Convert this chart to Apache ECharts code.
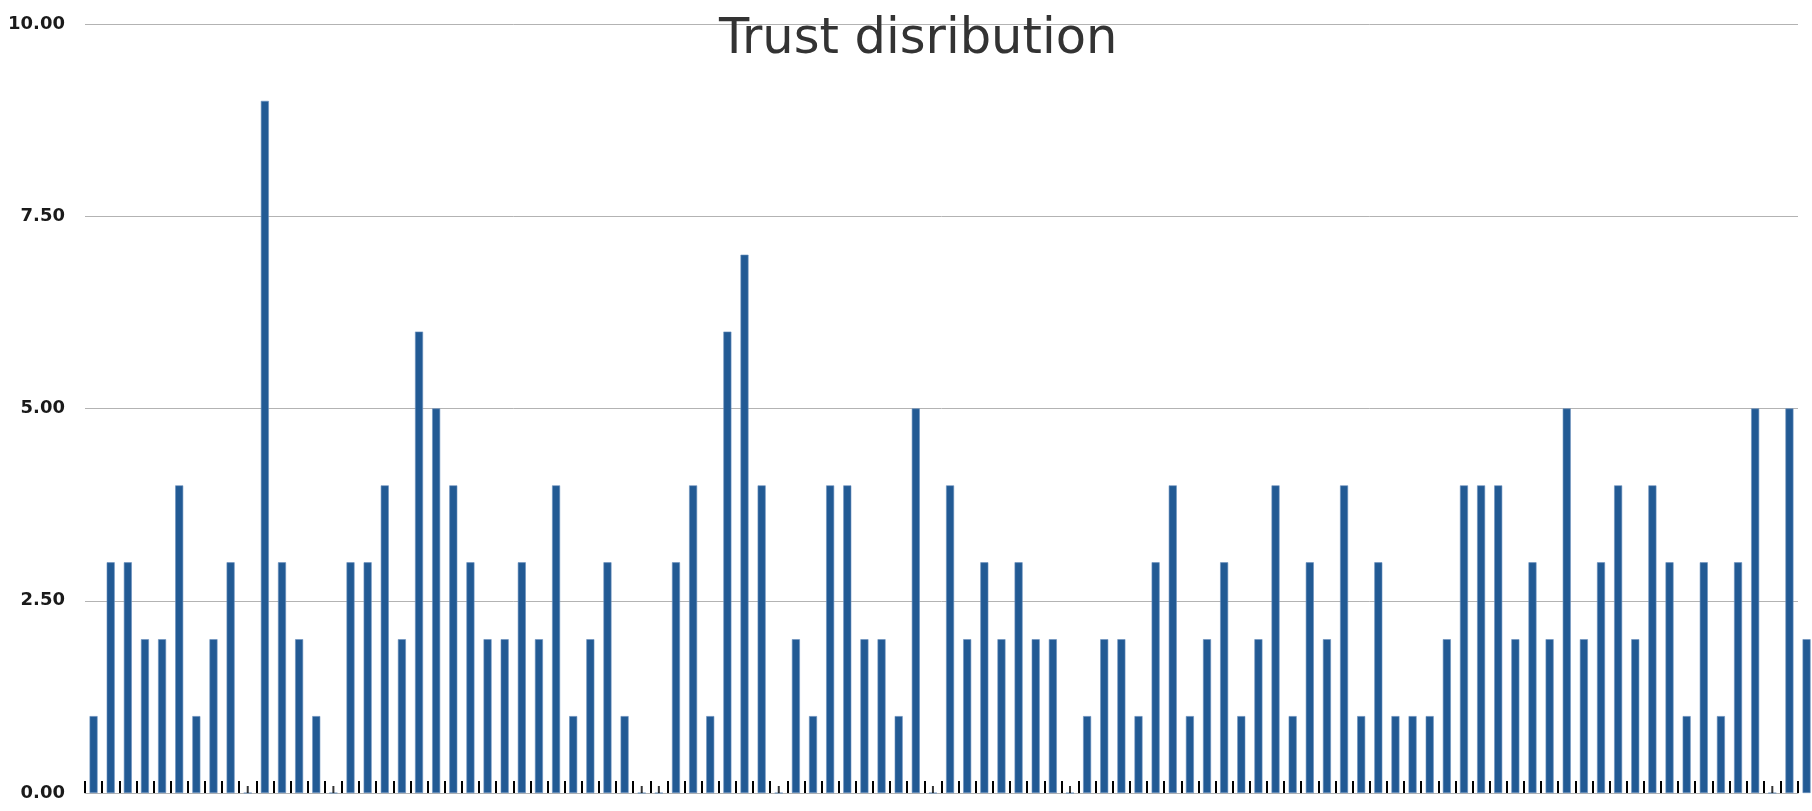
<!DOCTYPE html>
<html>
<head>
<meta charset="utf-8">
<script src="https://cdn.jsdelivr.net/npm/echarts@6/dist/echarts.min.js"></script>
<style>
html,body{margin:0;padding:0;background:#ffffff;}
#chart{width:1812px;height:811px;}
</style>
</head>
<body>
<div id="chart"></div>
<script>
const titleText = 'Trust disribution';
const categories = ['1','2','3','4','5','6','7','8','9','10','11','12','13','14','15','16','17','18','19','20','21','22','23','24','25','26','27','28','29','30','31','32','33','34','35','36','37','38','39','40','41','42','43','44','45','46','47','48','49','50','51','52','53','54','55','56','57','58','59','60','61','62','63','64','65','66','67','68','69','70','71','72','73','74','75','76','77','78','79','80','81','82','83','84','85','86','87','88','89','90','91','92','93','94','95','96','97','98','99','100','101'];
const trustValues = [1,3,3,2,2,4,1,2,3,0, 9,3,2,1,0,3,3,4,2,6, 5,4,3,2,2,3,2,4,1,2, 3,1,0,0,3,4,1,6,7,4, 0,2,1,4,4,2,2,1,5,0, 4,2,3,2,3,2,2,0,1,2, 2,1,3,4,1,2,3,1,2,4, 1,3,2,4,1,3,1,1,1,2, 4,4,4,2,3,2,5,2,3,4, 2,4,3,1,3,1,3,5,0,5, 2];
const yMin = 0, yMax = 10, yStep = 2.5;

const zeroMarks = trustValues.map(v => v === 0 ? 0 : '-');

const chart = echarts.init(document.getElementById('chart'), null, {renderer: 'canvas'});
chart.setOption({
  backgroundColor: '#ffffff',
  animation: false,
  title: {
    text: titleText,
    left: 719,
    top: 15,
    padding: 0,
    textStyle: {fontFamily: 'DejaVu Sans', fontSize: 49.5, fontWeight: 'normal', color: '#333333'}
  },
  grid: {left: 85, right: 14, top: 24, bottom: 18, containLabel: false},
  xAxis: {
    type: 'category',
    data: categories,
    max: 99,
    boundaryGap: true,
    axisLine: {show: true, lineStyle: {color: '#b3b3b3', width: 1}},
    axisTick: {show: true, inside: true, interval: 0, length: 12, lineStyle: {color: '#000000', width: 2}},
    axisLabel: {show: false},
    splitLine: {show: false}
  },
  yAxis: {
    type: 'value',
    min: yMin, max: yMax, interval: yStep,
    axisLine: {show: false},
    axisTick: {show: false},
    axisLabel: {
      margin: 20,
      fontFamily: 'DejaVu Sans', fontSize: 18, fontWeight: 'bold', color: '#1a1a1a',
      formatter: v => v.toFixed(2)
    },
    splitLine: {show: true, lineStyle: {color: '#b3b3b3', width: 1}}
  },
  series: [
    {
      type: 'bar',
      data: trustValues,
      barWidth: 8,
      clip: false,
      itemStyle: {color: '#225a94', borderColor: '#6a90bd', borderWidth: 0.6}
    },
    {
      type: 'scatter',
      data: zeroMarks,
      symbol: 'rect',
      symbolSize: [2, 7],
      symbolOffset: [0, -3.5],
      itemStyle: {color: '#000000'},
      z: 5
    }
  ]
});
</script>
</body>
</html>
